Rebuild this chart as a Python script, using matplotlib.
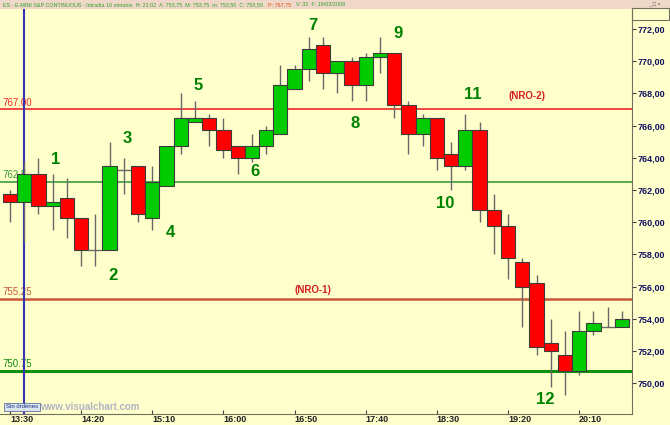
import numpy as np
import matplotlib
matplotlib.use('Agg')
import matplotlib.pyplot as plt
from matplotlib.patches import Rectangle

plt.rcParams['font.family'] = ['Liberation Sans', 'DejaVu Sans']

# datos de las velas (10 minutos, desde 13:30)
times = ['13:30', '13:40', '13:50', '14:00', '14:10', '14:20', '14:30', '14:40', '14:50', '15:00',
         '15:10', '15:20', '15:30', '15:40', '15:50', '16:00', '16:10', '16:20', '16:30', '16:40',
         '16:50', '17:00', '17:10', '17:20', '17:30', '17:40', '17:50', '18:00', '18:10', '18:20',
         '18:30', '18:40', '18:50', '19:00', '19:10', '19:20', '19:30', '19:40', '19:50', '20:00',
         '20:10', '20:20', '20:30', '20:40']
opens = [761.75, 761.25, 763.00, 761.00, 761.50, 760.25, 758.25, 758.25, 763.25, 763.50,
         760.25, 762.25, 764.75, 766.25, 766.50, 765.75, 764.75, 764.00, 764.75, 765.50,
         768.25, 769.50, 771.00, 769.25, 770.00, 768.50, 770.25, 770.50, 767.25, 765.50,
         766.50, 764.25, 763.50, 765.75, 760.75, 759.75, 757.50, 756.25, 752.50, 751.75,
         750.75, 753.25, 753.50, 753.50]
highs = [762.00, 763.75, 764.00, 763.00, 762.75, 760.25, 760.50, 765.00, 764.00, 763.50,
         763.50, 764.75, 768.00, 767.50, 766.75, 766.50, 764.75, 765.50, 766.00, 769.75,
         769.75, 771.50, 771.50, 770.00, 770.25, 770.50, 771.50, 770.50, 767.50, 766.75,
         766.50, 765.00, 766.75, 766.25, 761.75, 760.50, 757.75, 756.75, 754.00, 753.25,
         754.50, 754.50, 754.75, 754.50]
lows = [760.00, 758.75, 760.50, 759.50, 759.00, 757.25, 757.25, 758.25, 761.75, 760.00,
        759.50, 762.25, 764.25, 766.25, 764.75, 764.00, 763.00, 763.75, 764.25, 765.50,
        768.25, 768.75, 768.25, 768.00, 767.50, 767.50, 769.25, 766.50, 764.25, 764.75,
        763.25, 762.00, 763.25, 760.00, 758.00, 756.50, 753.50, 751.75, 749.75, 749.25,
        750.50, 753.00, 753.50, 753.50]
closes = [761.25, 763.00, 761.00, 761.25, 760.25, 758.25, 758.25, 763.50, 763.25, 760.50,
          762.50, 764.75, 766.50, 766.50, 765.75, 764.50, 764.00, 764.75, 765.75, 768.50,
          769.50, 770.75, 769.25, 770.00, 768.50, 770.25, 770.50, 767.25, 765.50, 766.50,
          764.00, 763.50, 765.75, 760.75, 759.75, 757.75, 756.00, 752.25, 752.00, 750.75,
          753.25, 753.75, 753.50, 754.00]

# niveles horizontales
level_values = [767.00, 762.50, 755.25, 750.75]
level_labels = ['767.00', '762.5', '755.25', '750.75']
level_colors = ['#f02828', '#3c9c3c', '#c8583c', '#109010']
level_widths = [1.2, 1.2, 1.8, 2.2]

# etiquetas (texto, indice de vela, precio)
wave_labels = ['1', '2', '3', '4', '5', '6', '7', '8', '9', '10', '11', '12']
wave_x = [3.23, 7.26, 8.24, 11.24, 13.2, 17.2, 21.27, 24.24, 27.29, 30.57, 32.5, 37.6]
wave_y = [763.91, 756.72, 765.21, 759.37, 768.46, 763.18, 772.19, 766.14, 771.69, 761.17, 767.9, 748.96]
nro_labels = ['(NRO-2)', '(NRO-1)']
nro_x = [36.3, 21.3]
nro_y = [767.84, 755.79]

ticks_y = [750, 752, 754, 756, 758, 760, 762, 764, 766, 768, 770, 772]
tick_every = 5

W, H = 670, 425
fig = plt.figure(figsize=(W / 100, H / 100), dpi=100)
fig.patch.set_facecolor('#ffffcc')

ax = fig.add_axes([0, 11 / H, 632 / W, (414 - 9) / H])
ax.set_facecolor('#ffffcc')
ax.set_xlim(-0.70, 43.71)
ax.set_ylim(748.09, 773.24)

for lv, lb, lc, lw in zip(level_values, level_labels, level_colors, level_widths):
    ax.axhline(lv, color=lc, lw=lw, zorder=1)
    ax.text(-0.55, lv + 0.12, lb, color=lc, fontsize=7, va='bottom', ha='left', zorder=1)

ax.axvline(1, color='#3434b4', lw=1.5, zorder=2)

for i in range(len(times)):
    o, h, l, c = opens[i], highs[i], lows[i], closes[i]
    ax.vlines(i, l, h, color='#686868', lw=1, zorder=3)
    if o == c:
        ax.hlines(o, i - 0.5, i + 0.5, color='#686868', lw=1, zorder=4)
        continue
    col = '#00cc00' if c > o else '#ff0000'
    ax.add_patch(Rectangle((i - 0.5, min(o, c)), 1.0, abs(c - o), facecolor=col,
                           edgecolor='#3c3c3c', lw=0.8, zorder=4))

for t, x, y in zip(wave_labels, wave_x, wave_y):
    ax.text(x, y, t, color='#008200', fontsize=12, fontweight='bold', ha='center', va='center', zorder=5)
for t, x, y in zip(nro_labels, nro_x, nro_y):
    ax.text(x, y, t, color='#d42020', fontsize=7, fontweight='bold', ha='center', va='center', zorder=5)

ax.yaxis.tick_right()
ax.set_yticks(ticks_y)
ax.set_yticklabels(['%d,00' % v for v in ticks_y], fontsize=6.5, color='#101060', fontweight='bold')
ax.tick_params(axis='y', length=3, width=0.8, color='#404040', pad=1)
ax.set_xticks(range(0, len(times), tick_every))
ax.set_xticklabels(times[::tick_every], fontsize=6.5, color='#202020', fontweight='bold', ha='left')
ax.tick_params(axis='x', length=3, width=0.8, color='#404040', pad=1, direction='in')
for s in ['top', 'left']:
    ax.spines[s].set_visible(False)
ax.spines['right'].set_color('#707060')
ax.spines['bottom'].set_color('#707060')

# cabecera
fig.patches.append(Rectangle((0, (H - 9) / H), 1, 9 / H, transform=fig.transFigure,
                             facecolor='#f0d8c8', edgecolor='none'))
fig.patches.append(Rectangle((632 / W, (H - 20) / H), 37 / W, 12 / H, transform=fig.transFigure,
                             facecolor='none', edgecolor='#707060', lw=0.8))
head_parts = ['ES - E-MINI S&P CONTINUOUS - Intradía 10 minutos  H: 21:02  A: 753,75  M: 753,75  m: 753,50  C: 753,50',
              'P: 767,75', 'V: 32  F: 16/03/2009']
head_colors = ['#30a030', '#e05010', '#30a030']
renderer = fig.canvas.get_renderer()
hx = 3
for part, hc in zip(head_parts, head_colors):
    t = fig.text(hx / W, (H - 4.5) / H, part, fontsize=3.9, color=hc, va='center')
    hx = t.get_window_extent(renderer).x1 + 5
fig.text(648 / W, (H - 4.5) / H, '_ □ ×', fontsize=4, color='#606060', va='center')

# pie
fig.text(6 / W, (H - 407) / H, 'Sin órdenes', fontsize=4.3, color='#203080', va='center',
         bbox=dict(boxstyle='square,pad=0.3', facecolor='#d8e4f0', edgecolor='#6070a0', lw=0.6))
fig.text(40 / W, (H - 407) / H, 'www.visualchart.com', fontsize=7, color='#b4b4c4',
         fontweight='bold', va='center')

fig.savefig('out.png', dpi=100, facecolor=fig.get_facecolor())
